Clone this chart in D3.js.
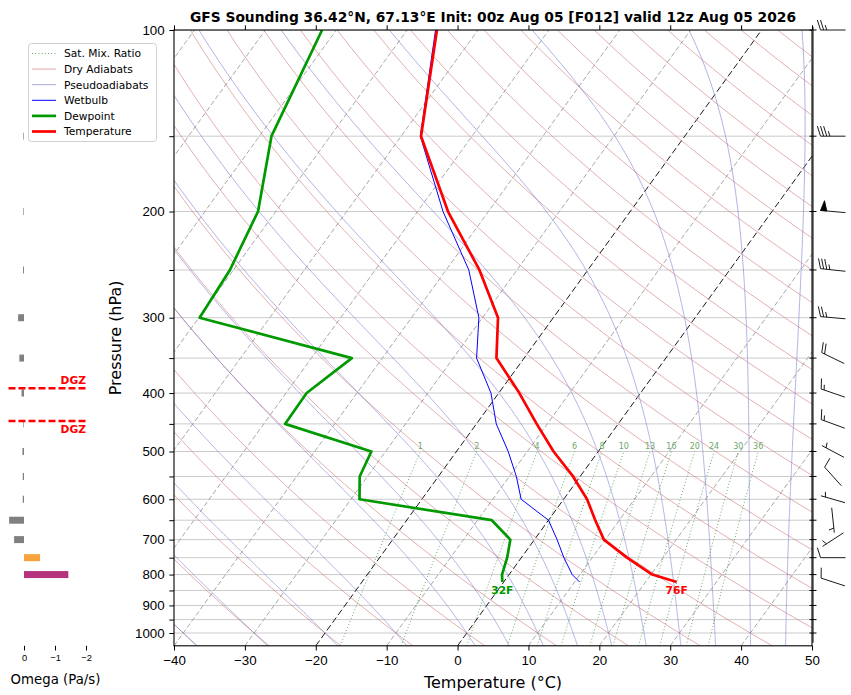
<!DOCTYPE html>
<html>
  <head>
    <meta charset="utf-8" />
    <script src="https://d3js.org/d3.v7.min.js"></script>
    <title>GFS Sounding</title>
    <style>
      body {
        margin: 0px;
        background: #fff;
        font-family: 'DejaVu Sans', sans-serif;
      }
      .tick text {
        font-size: 13.3px;
        fill: #000;
      }
      .domain {
        display: none;
      }
      .axis-label {
        font-size: 16px;
      }
      .legend text {
        font-size: 10.7px;
      }
    </style>
  </head>
  <body>
    <script>
      // sounding levels (hPa), surface first
      const levels = [823, 800, 750, 700, 650, 600, 550, 500, 450, 400, 350, 300, 250, 200, 150, 100];
      const temperature = [24.4, 20.2, 14.9, 9.8, 6.6, 3.3, -1.0, -6.3, -11.5, -17.1, -23.9, -27.8, -35.3, -45.7, -57.2, -65.8];
      const dewpoint = [-0.2, -1.0, -2.0, -3.4, -8.0, -28.8, -31.1, -32.0, -47.0, -47.1, -44.3, -69.9, -70.5, -72.5, -78.3, -82.0];
      const wetbulb = [10.7, 8.9, 6.0, 3.2, 0.0, -6.0, -9.0, -12.7, -17.2, -21.1, -26.7, -30.5, -36.8, -46.4, -57.3, -66.0];

      // wind barbs (direction deg, speed kt)
      const barbLevels = [823, 750, 700, 650, 600, 550, 500, 450, 400, 350, 300, 250, 200, 150, 100];
      const barbDirection = [288, 270, 237, 174, 286, 318, 298, 290, 289, 296, 275, 276, 275, 270, 270];
      const barbSpeed = [10, 10, 5, 5, 5, 10, 5, 15, 15, 20, 25, 35, 50, 35, 25];

      // omega (Pa/s)
      const omegaLevels = [800, 750, 700, 650, 600, 550, 500, 450, 400, 350, 300, 250, 200, 150];
      const omegaValues = [-1.43, -0.52, 0.32, 0.48, 0.04, 0.04, 0.05, 0.02, 0.08, 0.15, 0.19, 0.03, 0.02, 0.02];
      const omegaTicks = [0, -1, -2];

      // dendritic growth zone bounds (hPa)
      const dgzPressure = [392.8, 445];

      const mixRatios = [1, 2, 4, 6, 8, 10, 13, 16, 20, 24, 30, 36];
      const tempTicks = [-40, -30, -20, -10, 0, 10, 20, 30, 40, 50];
      const pressureTicks = d3.range(100, 1001, 50);

      const titleText = 'GFS Sounding 36.42°N, 67.13°E Init: 00z Aug 05 [F012] valid 12z Aug 05 2026';

      const width = 851;
      const height = 695;
      const plot = { left: 174, right: 812, top: 30, bottom: 645.8 };
      const skew = 0.724;

      const svg = d3.select('body').append('svg')
        .attr('width', width).attr('height', height);

      const xScale = d3.scaleLinear().domain([-40, 50]).range([plot.left, plot.right]);
      const yScale = d3.scaleLog().domain([1050, 100]).range([plot.bottom, plot.top]);
      const sx = (t, p) => xScale(t) + skew * (plot.bottom - yScale(p));

      svg.append('clipPath').attr('id', 'clip')
        .append('rect')
        .attr('x', plot.left).attr('y', plot.top)
        .attr('width', plot.right - plot.left)
        .attr('height', plot.bottom - plot.top);

      const g = svg.append('g').attr('clip-path', 'url(#clip)');
      const line = d3.line().x((d) => sx(d[0], d[1])).y((d) => yScale(d[1]));

      // horizontal grid
      g.selectAll('.hgrid').data(pressureTicks).enter().append('line')
        .attr('x1', plot.left).attr('x2', plot.right)
        .attr('y1', (d) => yScale(d)).attr('y2', (d) => yScale(d))
        .attr('stroke', '#cbcbcb').attr('stroke-width', 1);

      // isotherms
      const isotherms = d3.range(-150, 51, 10);
      g.selectAll('.iso').data(isotherms).enter().append('line')
        .attr('x1', (d) => sx(d, 1050)).attr('y1', yScale(1050))
        .attr('x2', (d) => sx(d, 100)).attr('y2', yScale(100))
        .attr('stroke', (d) => (d === 0 || d === -20 ? '#000' : '#a8a8a8'))
        .attr('stroke-width', (d) => (d === 0 || d === -20 ? 0.9 : 1))
        .attr('stroke-dasharray', (d) => (d === 0 || d === -20 ? '6.5,3' : '5,2.5'));

      // dry adiabats
      const pSamples = d3.range(0, 81).map((i) => 1050 * Math.pow(100 / 1050, i / 80));
      d3.range(-40, 251, 10).forEach((th) => {
        const pts = pSamples.map((p) => [(th + 273.15) * Math.pow(p / 1000, 0.28571) - 273.15, p]);
        g.append('path').attr('d', line(pts))
          .attr('fill', 'none').attr('stroke', '#cf7b7b')
          .attr('stroke-opacity', 0.75).attr('stroke-width', 0.8);
      });

      // pseudoadiabats
      const Rd = 287.04749, Cp = 1004.6662, Lv = 2.50084e6, eps = 0.6219569;
      const satVap = (t) => 6.112 * Math.exp((17.67 * t) / (t + 243.5));
      const dTdp = (p, T) => {
        const es = satVap(T - 273.15);
        const rs = (eps * es) / (p - es);
        return (Rd * T + Lv * rs) / (Cp + (Lv * Lv * rs * eps) / (Rd * T * T)) / p;
      };
      const integrate = (T0, p0, p1, dp) => {
        const out = [];
        let T = T0, p = p0;
        const n = Math.round(Math.abs(p1 - p0) / dp);
        const h = (p1 - p0) / n;
        for (let i = 0; i < n; i++) {
          const k1 = dTdp(p, T);
          const k2 = dTdp(p + h / 2, T + (h / 2) * k1);
          const k3 = dTdp(p + h / 2, T + (h / 2) * k2);
          const k4 = dTdp(p + h, T + h * k3);
          T += (h / 6) * (k1 + 2 * k2 + 2 * k3 + k4);
          p += h;
          out.push([T - 273.15, p]);
        }
        return out;
      };
      const moistStarts = d3.range(-40, 0, 10).concat(d3.range(0, 51, 5));
      moistStarts.forEach((t0) => {
        const up = integrate(t0 + 273.15, 1000, 100, 2);
        const down = integrate(t0 + 273.15, 1000, 1050, 2).reverse();
        const pts = down.concat([[t0, 1000]], up);
        g.append('path').attr('d', line(pts))
          .attr('fill', 'none').attr('stroke', '#7d7dd2')
          .attr('stroke-opacity', 0.75).attr('stroke-width', 0.8);
      });

      // saturation mixing ratio lines
      const tdFromMix = (w, p) => {
        const e = (p * (w / 1000)) / (eps + w / 1000);
        const l = Math.log(e / 6.112);
        return (243.5 * l) / (17.67 - l);
      };
      const mixP = d3.range(0, 31).map((i) => 1050 * Math.pow(500 / 1050, i / 30));
      mixRatios.forEach((w) => {
        const pts = mixP.map((p) => [tdFromMix(w, p), p]);
        g.append('path').attr('d', line(pts))
          .attr('fill', 'none').attr('stroke', '#3a8f3a')
          .attr('stroke-opacity', 0.85).attr('stroke-width', 0.9)
          .attr('stroke-dasharray', '1,2.2');
      });
      svg.selectAll('.mixlabel').data(mixRatios).enter().append('text')
        .attr('x', (d) => sx(tdFromMix(d, 500), 500))
        .attr('y', yScale(500) - 2)
        .attr('text-anchor', 'middle')
        .attr('font-size', '8px')
        .attr('fill', '#6aa86a')
        .text((d) => d);

      // profiles
      const profile = (vals) => vals.map((t, i) => [t, levels[i]]);
      g.append('path').attr('d', line(profile(wetbulb)))
        .attr('fill', 'none').attr('stroke', '#0000ff').attr('stroke-width', 1);
      g.append('path').attr('d', line(profile(dewpoint)))
        .attr('fill', 'none').attr('stroke', '#009a00').attr('stroke-width', 2.7)
        .attr('stroke-linejoin', 'round');
      g.append('path').attr('d', line(profile(temperature)))
        .attr('fill', 'none').attr('stroke', '#ff0000').attr('stroke-width', 2.7)
        .attr('stroke-linejoin', 'round');

      const toF = (c) => Math.round((c * 9) / 5 + 32) + 'F';
      svg.append('text')
        .attr('x', sx(temperature[0], levels[0])).attr('y', yScale(levels[0]) + 11.5)
        .attr('text-anchor', 'middle').attr('font-size', '10.7px').attr('font-weight', 'bold')
        .attr('fill', '#ff0000').text(toF(temperature[0]));
      svg.append('text')
        .attr('x', sx(dewpoint[0], levels[0])).attr('y', yScale(levels[0]) + 11.5)
        .attr('text-anchor', 'middle').attr('font-size', '10.7px').attr('font-weight', 'bold')
        .attr('fill', '#009a00').text(toF(dewpoint[0]));

      // frame
      svg.append('rect')
        .attr('x', plot.left).attr('y', plot.top)
        .attr('width', plot.right - plot.left).attr('height', plot.bottom - plot.top)
        .attr('fill', 'none').attr('stroke', '#000').attr('stroke-width', 1.1);

      // axes
      const xAxis = d3.axisBottom(xScale).tickValues(tempTicks).tickSize(4.7).tickPadding(4.7);
      svg.append('g').attr('transform', `translate(0,${plot.bottom})`).call(xAxis);
      const xTop = d3.axisTop(xScale).tickValues(tempTicks).tickSize(4.7).tickFormat('');
      svg.append('g').attr('transform', `translate(0,${plot.top})`).call(xTop);

      const yAxis = d3.axisLeft(yScale).tickValues(pressureTicks).tickSize(4.7).tickPadding(4.7)
        .tickFormat((d) => (d % 100 === 0 ? d : ''));
      svg.append('g').attr('transform', `translate(${plot.left},0)`).call(yAxis);

      // right side ticks of barb column
      svg.selectAll('.rtick').data(pressureTicks).enter().append('line')
        .attr('x1', plot.right - 2.5).attr('x2', plot.right + 4.5)
        .attr('y1', (d) => yScale(d)).attr('y2', (d) => yScale(d))
        .attr('stroke', '#000').attr('stroke-width', 1);
      svg.append('line')
        .attr('x1', plot.right + 1).attr('x2', plot.right + 1)
        .attr('y1', plot.top - 3).attr('y2', plot.bottom - 3)
        .attr('stroke', '#000').attr('stroke-width', 1);

      svg.append('text').attr('class', 'axis-label')
        .attr('x', (plot.left + plot.right) / 2).attr('y', 688)
        .attr('text-anchor', 'middle').text('Temperature (°C)');
      svg.append('text').attr('class', 'axis-label')
        .attr('transform', `translate(121,${(plot.top + plot.bottom) / 2}) rotate(-90)`)
        .attr('text-anchor', 'middle').text('Pressure (hPa)');
      svg.append('text')
        .attr('x', (plot.left + plot.right) / 2).attr('y', 21.5)
        .attr('text-anchor', 'middle').attr('font-size', '13.8px').attr('font-weight', 'bold')
        .text(titleText);

      // wind barbs
      const barbX = 833;
      const barbLen = 25;
      const barbShape = (cx, cy, dir, spd, L) => {
        const r = (dir * Math.PI) / 180;
        const s = [Math.sin(r), -Math.cos(r)];
        const q = [Math.cos(r), Math.sin(r)];
        const pt = (a, b) => [cx + a * s[0] + b * q[0], cy + a * s[1] + b * q[1]];
        const H = 0.4 * L, W = 0.25 * L, sp = 0.125 * L;
        let mag = Math.round(spd / 5) * 5;
        const nFlags = Math.floor(mag / 50);
        mag -= nFlags * 50;
        const nBarbs = Math.floor(mag / 10);
        mag -= nBarbs * 10;
        const half = mag >= 5;
        const lines = [[pt(-L / 2, 0), pt(L / 2, 0)]];
        const flags = [];
        let off = L;
        for (let i = 0; i < nFlags; i++) {
          if (off !== L) off += sp / 2;
          flags.push([pt(-L / 2 + off, 0), pt(-L / 2 + off - W / 2, H), pt(-L / 2 + off - W, 0)]);
          off -= W + sp;
        }
        for (let i = 0; i < nBarbs; i++) {
          lines.push([pt(-L / 2 + off, 0), pt(-L / 2 + off + W / 2, H)]);
          off -= sp;
        }
        if (half) {
          if (off === L) off -= 1.5 * sp;
          lines.push([pt(-L / 2 + off, 0), pt(-L / 2 + off + W / 4, H / 2)]);
        }
        return { lines, flags };
      };
      const barbG = svg.append('g');
      barbLevels.forEach((p, i) => {
        const shape = barbShape(barbX, yScale(p), barbDirection[i], barbSpeed[i], barbLen);
        shape.lines.forEach((l) => {
          barbG.append('path').attr('d', d3.line()(l))
            .attr('stroke', '#000').attr('stroke-width', 0.9).attr('fill', 'none');
        });
        shape.flags.forEach((f) => {
          barbG.append('path').attr('d', d3.line()(f) + 'Z')
            .attr('stroke', '#000').attr('stroke-width', 0.9).attr('fill', '#000');
        });
      });

      // omega panel
      const wScale = d3.scaleLinear().domain([0.5, -2]).range([8.5, 86]);
      const omegaColor = (v) => (v >= 0 ? '#808080' : v > -1 ? '#f7a23a' : '#b5327e');
      const omegaG = svg.append('g');
      omegaG.selectAll('rect').data(omegaValues).enter().append('rect')
        .attr('x', (d) => Math.min(wScale(0), wScale(d)))
        .attr('width', (d) => Math.abs(wScale(d) - wScale(0)))
        .attr('y', (d, i) => yScale(omegaLevels[i]) - 3.5)
        .attr('height', 7)
        .attr('fill', omegaColor);
      const wAxis = d3.axisBottom(wScale).tickValues(omegaTicks).tickSize(4.7).tickPadding(3.5)
        .tickFormat(d3.format('d'));
      const wAxisG = svg.append('g').attr('transform', `translate(0,${plot.bottom})`).call(wAxis);
      wAxisG.selectAll('text').style('font-size', '9.3px');
      svg.append('text')
        .attr('x', 55.5).attr('y', 684)
        .attr('text-anchor', 'middle').attr('font-size', '13.3px')
        .text('Omega (Pa/s)');

      omegaG.selectAll('.dgz').data(dgzPressure).enter().append('line')
        .attr('x1', wScale(0.5)).attr('x2', wScale(-2))
        .attr('y1', (d) => yScale(d)).attr('y2', (d) => yScale(d))
        .attr('stroke', '#ff0000').attr('stroke-width', 2.6)
        .attr('stroke-dasharray', '7,3');
      omegaG.selectAll('.dgzlabel').data(dgzPressure).enter().append('text')
        .attr('x', 86)
        .attr('y', (d, i) => yScale(d) + (i === 0 ? -4.5 : 12))
        .attr('text-anchor', 'end').attr('font-size', '10.7px').attr('font-weight', 'bold')
        .attr('fill', '#ff0000').text('DGZ');

      // legend
      const legendItems = [
        { label: 'Sat. Mix. Ratio', color: '#3a8f3a', w: 0.9, dash: '1,2.2', op: 0.85 },
        { label: 'Dry Adiabats', color: '#cf7b7b', w: 0.9, dash: null, op: 0.75 },
        { label: 'Pseudoadiabats', color: '#7d7dd2', w: 0.9, dash: null, op: 0.75 },
        { label: 'Wetbulb', color: '#0000ff', w: 1, dash: null, op: 1 },
        { label: 'Dewpoint', color: '#009a00', w: 2.7, dash: null, op: 1 },
        { label: 'Temperature', color: '#ff0000', w: 2.7, dash: null, op: 1 },
      ];
      const legend = svg.append('g').attr('class', 'legend').attr('transform', 'translate(28,43)');
      legend.append('rect')
        .attr('x', 0.5).attr('y', 0.5).attr('width', 128).attr('height', 98)
        .attr('rx', 3).attr('fill', '#fff').attr('fill-opacity', 0.85)
        .attr('stroke', '#d0d0d0').attr('stroke-width', 1);
      const item = legend.selectAll('.item').data(legendItems).enter().append('g')
        .attr('transform', (d, i) => `translate(0,${10.5 + i * 15.6})`);
      item.append('line')
        .attr('x1', 4).attr('x2', 28).attr('y1', 0).attr('y2', 0)
        .attr('stroke', (d) => d.color).attr('stroke-width', (d) => d.w)
        .attr('stroke-opacity', (d) => d.op)
        .attr('stroke-dasharray', (d) => d.dash);
      item.append('text').attr('x', 36).attr('y', 3.8).text((d) => d.label);
    </script>
  </body>
</html>
